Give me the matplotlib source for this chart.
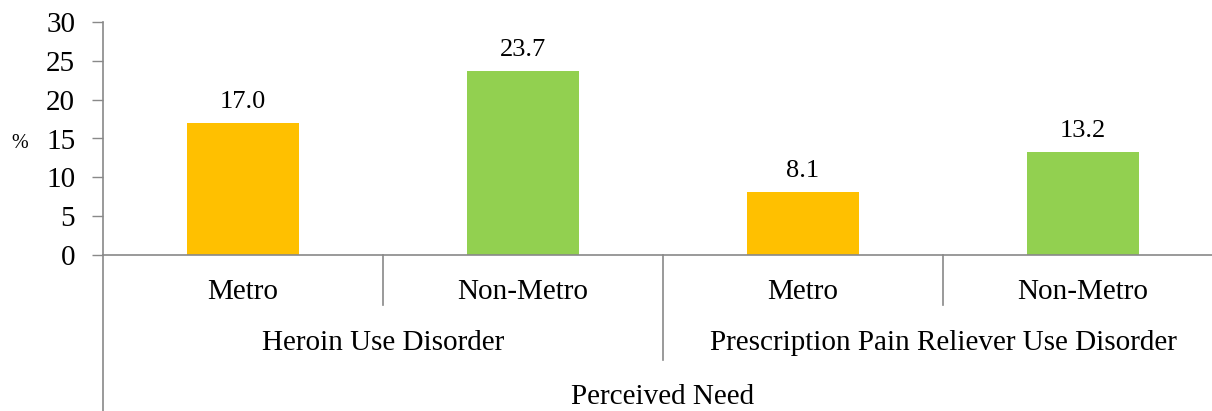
import numpy as np
import matplotlib
matplotlib.use("Agg")
import matplotlib.pyplot as plt
import matplotlib.transforms as mtransforms

# data
groups = ["Heroin Use Disorder", "Prescription Pain Reliever Use Disorder"]
subcats = ["Metro", "Non-Metro", "Metro", "Non-Metro"]
values = [17.0, 23.7, 8.1, 13.2]
colors = ["#FFC000", "#92D050", "#FFC000", "#92D050"]
outer_label = "Perceived Need"
y_ticks = [0, 5, 10, 15, 20, 25, 30]

plt.rcParams["font.family"] = ["Liberation Serif", "DejaVu Serif"]
axis_gray = "#898989"

W, H = 1212, 411
fig = plt.figure(figsize=(W / 100, H / 100), dpi=100)
# axes box in pixel terms: left 103, right 1223, top 22, bottom 255
ax = fig.add_axes([103 / W, (H - 255) / H, 1120 / W, 233 / H])

x = np.arange(len(values))
ax.bar(x, values, width=0.4, color=colors, zorder=2)
for xi, v in zip(x, values):
    ax.annotate(f"{v:.1f}", (xi, v), xytext=(0, 7.5), textcoords="offset points",
                ha="center", va="bottom", fontsize=19)

ax.set_xlim(-0.5, len(values) - 0.5)
ax.set_ylim(0, 30)
ax.set_yticks(y_ticks)
ax.tick_params(axis="y", labelsize=21, length=8, width=1, color=axis_gray, pad=12)
ax.set_xticks([])
for s in ["top", "right"]:
    ax.spines[s].set_visible(False)
for s in ["left", "bottom"]:
    ax.spines[s].set_color(axis_gray)
    ax.spines[s].set_linewidth(1.2)

# '%' label
fig.text(20 / W, (H - 143) / H, "%", fontsize=14.5, ha="center", va="center")

# multi-level category axis below
trans = mtransforms.blended_transform_factory(ax.transData, ax.transAxes)
px = 1 / 233.0
lvl1 = -50 * px
lvl2 = -105 * px
lvl3 = -156 * px

# left spine continues down
ax.plot([-0.5, -0.5], [0, lvl3], transform=trans, color=axis_gray, lw=1.2, clip_on=False)
# separators between subcategories
for b in [0.5, 2.5]:
    ax.plot([b, b], [0, lvl1], transform=trans, color=axis_gray, lw=1.2, clip_on=False)
# separator between groups
ax.plot([1.5, 1.5], [0, lvl2], transform=trans, color=axis_gray, lw=1.2, clip_on=False)

for xi, lab in zip(x, subcats):
    ax.text(xi, -37 * px, lab, transform=trans, ha="center", va="center", fontsize=21)
for gi, g in enumerate(groups):
    ax.text(gi * 2 + 0.5, -88 * px, g, transform=trans, ha="center", va="center", fontsize=21)
ax.text(1.5, -142 * px, outer_label, transform=trans, ha="center", va="center", fontsize=21)

fig.savefig("out.png", dpi=100)
